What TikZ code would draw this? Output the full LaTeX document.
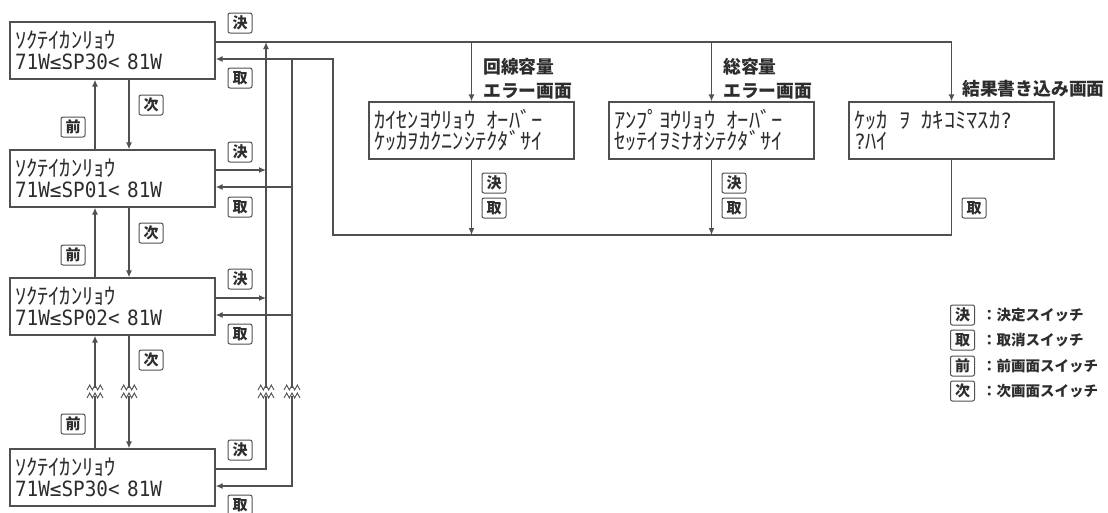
\documentclass[tikz,border=0pt]{standalone}
\usepackage{fontspec}
\usetikzlibrary{arrows.meta,positioning,calc}
\newfontfamily\jp{Noto Sans CJK JP}
\newfontfamily\lcdmono[FakeStretch=0.92]{DejaVu Sans Mono}
\definecolor{linegray}{RGB}{80,80,80}
\definecolor{txtgray}{RGB}{45,45,45}
\newcommand\hsp{\hspace*{.5em}}
\newcommand\mono[1]{{\lcdmono\fontsize{21}{21}\selectfont #1}}

\tikzset{
  ln/.style={draw=linegray,line width=1.3pt},
  scr/.style={draw=linegray,line width=1.3pt,minimum width=205pt,minimum height=57pt,text=txtgray,
    inner xsep=5pt,text width=195pt,align=left,font=\jp\fontsize{22.5}{21}\selectfont},
  sw/.style={draw=linegray,line width=1pt,rounded corners=2pt,inner sep=0pt,text=txtgray,
    minimum width=24pt,minimum height=20pt,font=\jp\bfseries\fontsize{15}{15}\selectfont},
  ttl/.style={anchor=north west,align=left,inner sep=0pt,text=txtgray,font=\jp\bfseries\fontsize{17.8}{24}\selectfont},
  lgd/.style={anchor=west,inner sep=0pt,text=txtgray,font=\jp\bfseries\fontsize{14.5}{15}\selectfont},
  brk/.pic={
    \fill[white] (-9,-4) rectangle (9,4);
    \draw[draw=linegray,line width=0.9pt] (-8,-1.5)--(-5.3,-6.5)--(-2.7,-1.5)--(0,-6.5)--(2.7,-1.5)--(5.3,-6.5)--(8,-1.5);
    \draw[draw=linegray,line width=0.9pt] (-8,6.5)--(-5.3,1.5)--(-2.7,6.5)--(0,1.5)--(2.7,6.5)--(5.3,1.5)--(8,6.5);
  }
}

\begin{document}
\begin{tikzpicture}[x=1pt,y=-1pt,>={Latex[length=7pt,width=6pt]}]
  \useasboundingbox (0,0) rectangle (1108,512);
  % setting screens
  \node[scr] (b1) at (112.5,50.5) {ｿｸﾃｲｶﾝﾘｮｳ\\\mono{71W≤SP30< 81W}};
  \node[scr] (b2) at (112.5,178.5) {ｿｸﾃｲｶﾝﾘｮｳ\\\mono{71W≤SP01< 81W}};
  \node[scr] (b3) at (112.5,306.5) {ｿｸﾃｲｶﾝﾘｮｳ\\\mono{71W≤SP02< 81W}};
  \node[scr] (b4) at (112.5,477.5) {ｿｸﾃｲｶﾝﾘｮｳ\\\mono{71W≤SP30< 81W}};
  % error and result screens
  \node[scr] (errA) at (471.5,130.5) {ｶｲｾﾝﾖｳﾘｮｳ\hsp ｵｰﾊﾞｰ\\ｹｯｶｦｶｸﾆﾝｼﾃｸﾀﾞｻｲ};
  \node[scr] (errB) at (711.5,130.5) {ｱﾝﾌﾟﾖｳﾘｮｳ\hsp ｵｰﾊﾞｰ\\ｾｯﾃｲｦﾐﾅｵｼﾃｸﾀﾞｻｲ};
  \node[scr] (res) at (951.5,130.5) {ｹｯｶ\hsp ｦ\hsp ｶｷｺﾐﾏｽｶ\mono{?}\\\mono{?}ﾊｲ};
  \node[ttl] (errAt) at (483,58) {回線容量\\エラー画面};
  \node[ttl] (errBt) at (723,58) {総容量\\エラー画面};
  \node[ttl] (rest) at (962,80) {結果書き込み画面};

  \coordinate (k1) at ([yshift=8.5pt]b1.east);  \coordinate (t1) at ([yshift=-8.5pt]b1.east);
  \coordinate (k2) at ([yshift=8.5pt]b2.east);  \coordinate (t2) at ([yshift=-8.5pt]b2.east);
  \coordinate (k3) at ([yshift=8.5pt]b3.east);  \coordinate (t3) at ([yshift=-8.5pt]b3.east);
  \coordinate (k4) at ([yshift=8.5pt]b4.east);  \coordinate (t4) at ([yshift=-8.5pt]b4.east);
  \coordinate (kbus) at (266,0); \coordinate (tbus) at (292,0);
  \coordinate (rbus) at (333,235);
  \coordinate (mae) at (95,0); \coordinate (tsugi) at (129,0);

  % next / previous
  \draw[ln,->] (b1.south -| tsugi) -- (b2.north -| tsugi);
  \draw[ln,->] (b2.north -| mae) -- (b1.south -| mae);
  \draw[ln,->] (b2.south -| tsugi) -- (b3.north -| tsugi);
  \draw[ln,->] (b3.north -| mae) -- (b2.south -| mae);
  \draw[ln,->] (b3.south -| tsugi) -- (b4.north -| tsugi);
  \draw[ln,->] (b4.north -| mae) -- (b3.south -| mae);

  % decide
  \draw[ln,->] (k1) -| (res.north);
  \draw[ln,->] (k1 -| errA.north) -- (errA.north);
  \draw[ln,->] (k1 -| errB.north) -- (errB.north);
  \draw[ln,->] (k4) -| (k1 -| kbus);
  \draw[ln,->] (k2) -- (k2 -| kbus);
  \draw[ln,->] (k3) -- (k3 -| kbus);

  % cancel
  \draw[ln,->] (res.south) |- (rbus) |- (t1);
  \draw[ln,->] (errA.south) -- (errA.south |- rbus);
  \draw[ln,->] (errB.south) -- (errB.south |- rbus);
  \draw[ln,->] (t1 -| tbus) |- (t4);
  \draw[ln,->] (t2 -| tbus) -- (t2);
  \draw[ln,->] (t3 -| tbus) -- (t3);

  % omitted screens
  \pic at (95,391.5) {brk};
  \pic at (129,391.5) {brk};
  \pic at (266,391.5) {brk};
  \pic at (292,391.5) {brk};

  % switch labels
  \node[sw] (k1s) at (240,23) {決};  \node[sw] (t1s) at (240,78) {取};
  \node[sw] (k2s) at (240,152) {決}; \node[sw] (t2s) at (240,207) {取};
  \node[sw] (k3s) at (240,279) {決}; \node[sw] (t3s) at (240,334) {取};
  \node[sw] (k4s) at (240,450) {決}; \node[sw] (t4s) at (240,505) {取};
  \node[sw] (n1s) at (151,105) {次}; \node[sw] (p1s) at (73,127) {前};
  \node[sw] (n2s) at (151,233) {次}; \node[sw] (p2s) at (73,255) {前};
  \node[sw] (n3s) at (151,360) {次}; \node[sw] (p3s) at (73,424) {前};
  \node[sw] (kAs) at (494,183) {決}; \node[sw] (tAs) at (494,208) {取};
  \node[sw] (kBs) at (734,183) {決}; \node[sw] (tBs) at (734,208) {取};
  \node[sw] (tRs) at (974,208) {取};

  % legend
  \node[sw] (lg1) at (962.5,315) {決}; \node[lgd] at (982,315) {：決定スイッチ};
  \node[sw] (lg2) at (962.5,340) {取}; \node[lgd] at (982,340) {：取消スイッチ};
  \node[sw] (lg3) at (962.5,366) {前}; \node[lgd] at (982,366) {：前画面スイッチ};
  \node[sw] (lg4) at (962.5,391) {次}; \node[lgd] at (982,391) {：次画面スイッチ};
\end{tikzpicture}
\end{document}
